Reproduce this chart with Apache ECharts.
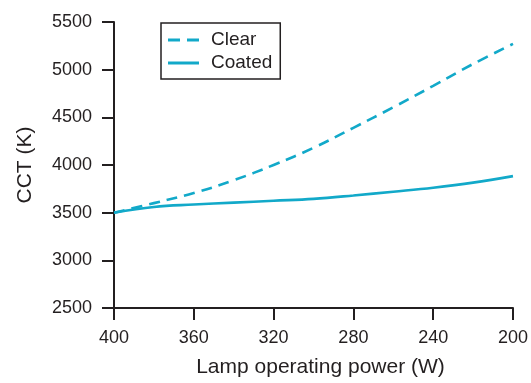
<!DOCTYPE html>
<html>
<head>
<meta charset="utf-8">
<script src="https://cdn.jsdelivr.net/npm/echarts@6/dist/echarts.min.js"></script>
<style>
html,body{margin:0;padding:0;background:#fff;}
#c{width:531px;height:383px;}
</style>
</head>
<body>
<div id="c"></div>
<script>
var power = [400, 380, 360, 340, 320, 300, 280, 260, 240, 220, 200];
var clearCCT = [3500, 3600, 3705, 3840, 4000, 4180, 4390, 4605, 4830, 5060, 5270];
var coatedCCT = [3500, 3560, 3585, 3605, 3625, 3645, 3680, 3720, 3762, 3815, 3883];
var xTicks = [200, 240, 280, 320, 360, 400];
var yTicks = [2500, 3000, 3500, 4000, 4500, 5000, 5500];

var ink = '#231f20';
var teal = '#12a9c9';
var font = 'Liberation Sans, Arial, Helvetica, sans-serif';

function pairs(xs, ys) { return xs.map(function (x, i) { return [x, ys[i]]; }); }

var chart = echarts.init(document.getElementById('c'), null, {renderer: 'canvas'});
chart.setOption({
  animation: false,
  backgroundColor: '#fff',
  grid: {left: 114, right: 14, top: 22, bottom: 71, containLabel: false},
  legend: {
    left: 161, top: 23, orient: 'vertical',
    padding: [7, 8, 6, 7],
    borderColor: ink, borderWidth: 1.5,
    itemWidth: 31, itemHeight: 3, itemGap: 3,
    textStyle: {fontSize: 19, lineHeight: 20, color: ink, fontFamily: font, padding: [0, 0, 0, 7]},
    data: [
      {name: 'Clear', icon: 'path://M0,0h12v3h-12z M19,0h12v3h-12z'},
      {name: 'Coated', icon: 'path://M0,0h31v3h-31z'}
    ]
  },
  xAxis: {
    type: 'value', inverse: true, min: xTicks[0], max: xTicks[xTicks.length - 1], interval: 40,
    name: 'Lamp operating power (W)', nameLocation: 'middle', nameGap: 49,
    nameTextStyle: {fontSize: 21, color: ink, fontFamily: font, padding: [0, 0, 0, 14]},
    axisLine: {lineStyle: {color: ink, width: 2}},
    axisTick: {inside: false, length: 12, lineStyle: {color: ink, width: 2}},
    axisLabel: {fontSize: 18, color: ink, fontFamily: font, margin: 21},
    splitLine: {show: false}
  },
  yAxis: {
    type: 'value', min: yTicks[0], max: yTicks[yTicks.length - 1], interval: 500,
    name: 'CCT (K)', nameLocation: 'middle', nameGap: 78, nameRotate: 90,
    nameTextStyle: {fontSize: 21, color: ink, fontFamily: font},
    axisLine: {show: true, lineStyle: {color: ink, width: 2}},
    axisTick: {show: true, inside: false, length: 12, lineStyle: {color: ink, width: 2}},
    axisLabel: {fontSize: 18, color: ink, fontFamily: font, margin: 22,
      formatter: function (v) { return String(v); }},
    splitLine: {show: false}
  },
  series: [
    {
      name: 'Clear', type: 'line', data: pairs(power, clearCCT),
      smooth: 0.4, symbol: 'none', color: teal,
      lineStyle: {color: teal, width: 2.6, type: [11, 7]}
    },
    {
      name: 'Coated', type: 'line', data: pairs(power, coatedCCT),
      smooth: 0.4, symbol: 'none', color: teal,
      lineStyle: {color: teal, width: 2.6, type: 'solid'}
    }
  ]
});
</script>
</body>
</html>
